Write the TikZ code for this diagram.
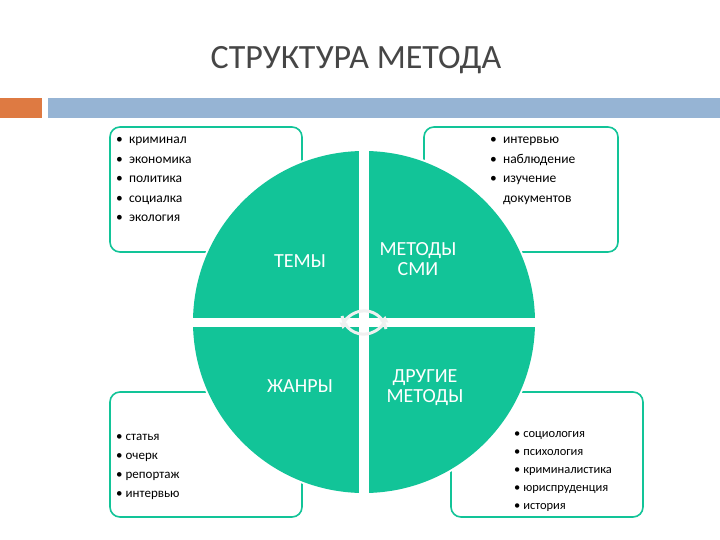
\documentclass[tikz,border=0pt]{standalone}
\usepackage{fontspec}
\setmainfont{Carlito}
\usetikzlibrary{arrows.meta}
\definecolor{teal1}{RGB}{18,196,152}
\definecolor{bluebar}{RGB}{150,180,212}
\definecolor{orangebar}{RGB}{222,122,66}
\definecolor{titlegray}{RGB}{70,70,70}
\begin{document}
\begin{tikzpicture}[x=1pt,y=-1pt,
  box/.style={draw=teal1,line width=1.6pt,rounded corners=10pt,fill=white},
  quad/.style={fill=teal1},
  lbl/.style={text=white,font=\fontsize{20}{22}\selectfont,align=center},
  lst/.style={anchor=north west,align=left,font=\fontsize{13.5}{19.5}\selectfont,inner sep=0pt},
  cyc/.style={draw=white!88!gray,line width=3pt,-{Triangle[length=6pt,width=8pt]}}]
\useasboundingbox (0,0) rectangle (720,540);
\fill[white] (0,0) rectangle (720,540);
\node[titlegray,font=\fontsize{34}{36}\selectfont] (title) at (356,60) {СТРУКТУРА МЕТОДА};
\fill[orangebar] (0,98) rectangle (42,118);
\fill[bluebar] (48,98) rectangle (720,118);
% boxes
\draw[box] (110,127) rectangle (302,252);
\draw[box] (424,127) rectangle (618,252);
\draw[box] (110,392) rectangle (302,517);
\draw[box] (451,392) rectangle (643,517);
% pie
\coordinate (c) at (364,322);
\fill[white] (c) circle (173);
\begin{scope}
\clip (c) circle (171);
\fill[quad] (150,100) rectangle (359,317.5);
\fill[quad] (369,100) rectangle (600,317.5);
\fill[quad] (150,326.5) rectangle (359,600);
\fill[quad] (369,326.5) rectangle (600,600);
\end{scope}
\draw[cyc] (342,316) arc[start angle=170,end angle=10,radius=22];
\draw[cyc] (386,329) arc[start angle=-10,end angle=-170,radius=22];
\node[lbl] (temy) at (300,261) {ТЕМЫ};
\node[lbl] (smi) at (418,259) {МЕТОДЫ\\[-2pt]СМИ};
\node[lbl] (zhanry) at (300,386) {ЖАНРЫ};
\node[lbl] (drugie) at (425,388) {ДРУГИЕ\\[-2pt]МЕТОДЫ};
% lists
\node[lst] (l1) at (116,137) {• \ криминал\\• \ экономика\\• \ политика\\• \ социалка\\• \ экология};
\node[lst] (l2) at (490,137) {• \ интервью\\• \ наблюдение\\• \ изучение\\\hphantom{• \ }документов};
\node[lst,font=\fontsize{13}{19}\selectfont] (l3) at (116,434) {• статья\\• очерк\\• репортаж\\• интервью};
\node[lst,font=\fontsize{12.5}{18}\selectfont] (l4) at (514,431) {• социология\\• психология\\• криминалистика\\• юриспруденция\\• история};
\end{tikzpicture}
\end{document}
